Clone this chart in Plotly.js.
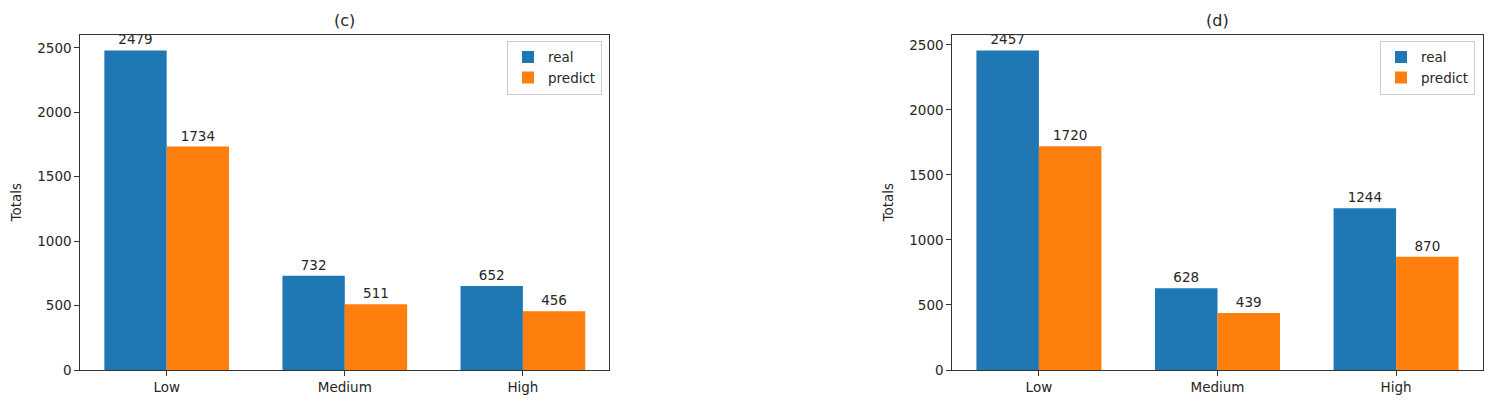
<!DOCTYPE html>
<html>
<head>
<meta charset="utf-8">
<script src="https://cdn.plot.ly/plotly-3.0.1.min.js"></script>
<style>html,body{margin:0;padding:0;background:#fff;}#chart{width:1496px;height:406px;}</style>
</head>
<body>
<div id="chart"></div>
<script>
const categories = ["Low", "Medium", "High"];
const realC = [2479, 732, 652];
const predictC = [1734, 511, 456];
const realD = [2457, 628, 1244];
const predictD = [1720, 439, 870];
const panelTitles = ["(c)", "(d)"];

const BLUE = "#1f77b4", ORANGE = "#ff7f0e";
const FONT = "DejaVu Sans, sans-serif";
const TXT = "#262626";

function barTrace(y, name, color, xa, ya, legend) {
  return {
    type: "bar", x: categories, y: y, name: name,
    xaxis: xa, yaxis: ya, legend: legend,
    marker: {color: color, line: {width: 0}},
    text: y.map(String), textposition: "outside", cliponaxis: false,
    textfont: {family: FONT, size: 13.5, color: TXT},
    hoverinfo: "skip"
  };
}

const data = [
  barTrace(realC, "real", BLUE, "x", "y", "legend"),
  barTrace(predictC, "predict", ORANGE, "x", "y", "legend"),
  barTrace(realD, "real", BLUE, "x2", "y2", "legend2"),
  barTrace(predictD, "predict", ORANGE, "x2", "y2", "legend2")
];

const xBase = {
  type: "category", range: [-0.485, 2.485], showgrid: false, zeroline: false,
  showline: true, mirror: true, linecolor: "#333", linewidth: 1,
  ticks: "outside", ticklen: 5, tickcolor: "#333", tickwidth: 1,
  tickfont: {family: FONT, size: 13.5, color: TXT}, automargin: false, fixedrange: true
};
const yBase = {
  showgrid: false, zeroline: false, showline: true, mirror: true,
  linecolor: "#333", linewidth: 1, ticks: "outside", ticklen: 5,
  tickcolor: "#333", tickwidth: 1, tickvals: [0, 500, 1000, 1500, 2000, 2500],
  tickfont: {family: FONT, size: 13.5, color: TXT}, automargin: false,
  title: {text: "Totals", font: {family: FONT, size: 13.5, color: TXT}, standoff: 12},
  fixedrange: true
};
const yDom = [36/406, 371.5/406];

const legBase = {
  bgcolor: "rgba(255,255,255,0.8)", bordercolor: "#ccc", borderwidth: 1,
  font: {family: FONT, size: 13.5, color: TXT}, xanchor: "right", yanchor: "top",
  y: 0.9, tracegroupgap: 0, itemwidth: 30
};

const layout = {
  width: 1496, height: 406,
  margin: {l: 0, r: 0, t: 0, b: 0},
  paper_bgcolor: "#fff", plot_bgcolor: "#fff",
  barmode: "group", bargap: 0.3, bargroupgap: 0,
  showlegend: true,
  xaxis: Object.assign({}, xBase, {domain: [80.3/1496, 609.3/1496], anchor: "y"}),
  yaxis: Object.assign({}, yBase, {domain: yDom, range: [0, 2603], anchor: "x"}),
  xaxis2: Object.assign({}, xBase, {domain: [952.3/1496, 1482.7/1496], anchor: "y2"}),
  yaxis2: Object.assign({}, yBase, {domain: yDom, range: [0, 2580], anchor: "x2"}),
  legend: Object.assign({}, legBase, {x: 602/1496}),
  legend2: Object.assign({}, legBase, {x: 1475/1496}),
  annotations: [
    {text: panelTitles[0], xref: "paper", yref: "paper", x: (80.3+609.3)/2/1496, y: 1 - 20/406,
     xanchor: "center", yanchor: "middle", showarrow: false, font: {family: FONT, size: 16, color: TXT}},
    {text: panelTitles[1], xref: "paper", yref: "paper", x: (952.3+1482.7)/2/1496, y: 1 - 20/406,
     xanchor: "center", yanchor: "middle", showarrow: false, font: {family: FONT, size: 16, color: TXT}}
  ]
};

Plotly.newPlot("chart", data, layout, {displayModeBar: false, staticPlot: true});
</script>
</body>
</html>
